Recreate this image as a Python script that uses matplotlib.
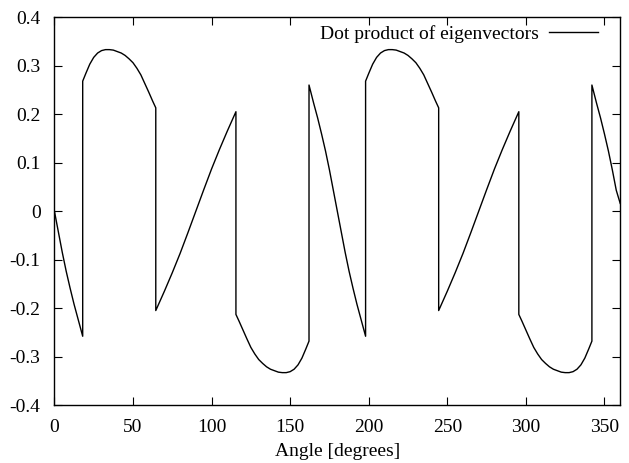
import matplotlib
matplotlib.use("Agg")
import matplotlib.pyplot as plt

# values (repeated angles = vertical jumps)
angle = [0, 2.5, 5, 7.5, 10, 12.5, 15, 18,
         18, 20, 22.5, 25, 27.5, 30, 32.5, 35, 37.5, 40, 42.5, 45, 47.5, 50,
         52.5, 55, 57.5, 60, 62.5, 64.5,
         64.5, 70, 75, 80, 85, 90, 95, 100, 105, 110, 115.5,
         115.5, 117.5, 120, 122.5, 125, 127.5, 130, 132.5, 135, 137.5, 140,
         142.5, 145, 147.5, 150, 152.5, 155, 157.5, 160, 162,
         162, 165, 167.5, 170, 172.5, 175, 177.5, 180, 182.5, 185, 187.5,
         190, 192.5, 195, 198,
         198, 200, 202.5, 205, 207.5, 210, 212.5, 215, 217.5, 220, 222.5, 225,
         227.5, 230, 232.5, 235, 237.5, 240, 242.5, 244.5,
         244.5, 250, 255, 260, 265, 270, 275, 280, 285, 290, 295.5,
         295.5, 297.5, 300, 302.5, 305, 307.5, 310, 312.5, 315, 317.5, 320,
         322.5, 325, 327.5, 330, 332.5, 335, 337.5, 340, 342,
         342, 345, 347.5, 350, 352.5, 355, 357.5, 360]
dot = [0, -0.043, -0.085, -0.124, -0.159, -0.192, -0.222, -0.258,
       0.268, 0.284, 0.303, 0.317, 0.326, 0.331, 0.333, 0.333, 0.332, 0.329, 0.326, 0.321, 0.314, 0.306,
       0.2945, 0.281, 0.2635, 0.2455, 0.227, 0.213,
       -0.205, -0.165, -0.127, -0.087, -0.044, 0.0, 0.044, 0.087, 0.127, 0.165, 0.205,
       -0.213, -0.227, -0.2455, -0.2635, -0.281, -0.2945, -0.306, -0.314, -0.321, -0.326, -0.329,
       -0.332, -0.333, -0.333, -0.331, -0.326, -0.317, -0.303, -0.284, -0.268,
       0.260, 0.222, 0.192, 0.159, 0.124, 0.085, 0.043, 0.0, -0.043, -0.085, -0.124,
       -0.159, -0.192, -0.222, -0.258,
       0.268, 0.284, 0.303, 0.317, 0.326, 0.331, 0.333, 0.333, 0.332, 0.329, 0.326, 0.321,
       0.314, 0.306, 0.2945, 0.281, 0.2635, 0.2455, 0.227, 0.213,
       -0.205, -0.165, -0.127, -0.087, -0.044, 0.0, 0.044, 0.087, 0.127, 0.165, 0.205,
       -0.213, -0.227, -0.2455, -0.2635, -0.281, -0.2945, -0.306, -0.314, -0.321, -0.326, -0.329,
       -0.332, -0.333, -0.333, -0.331, -0.326, -0.317, -0.303, -0.284, -0.268,
       0.260, 0.222, 0.192, 0.159, 0.124, 0.085, 0.043, 0.016]

x_ticks = [0, 50, 100, 150, 200, 250, 300, 350]
y_ticks = [-0.4, -0.3, -0.2, -0.1, 0, 0.1, 0.2, 0.3, 0.4]
y_labels = ['-0.4', '-0.3', '-0.2', '-0.1', '0', '0.1', '0.2', '0.3', '0.4']

plt.rcParams['font.family'] = ['Liberation Serif', 'DejaVu Serif']
plt.rcParams['font.size'] = 14

fig = plt.figure(figsize=(6.29, 4.63), dpi=100)
ax = fig.add_axes([0.0865, 0.125, 0.8995, 0.838])

ax.plot(angle, dot, color='black', lw=1.0, label='Dot product of eigenvectors')

ax.set_xlim(0, 360)
ax.set_ylim(-0.4, 0.4)
ax.set_xticks(x_ticks)
ax.set_yticks(y_ticks)
ax.set_yticklabels(y_labels)
ax.tick_params(direction='in', top=True, right=True, length=6, width=0.8)
ax.tick_params(axis='x', pad=10)
ax.tick_params(axis='y', pad=10)
for s in ax.spines.values():
    s.set_linewidth(1.0)

ax.set_xlabel('Angle [degrees]', labelpad=5)
ax.legend(loc='upper right', bbox_to_anchor=(0.974, 1.0), borderaxespad=0,
          frameon=False, markerfirst=False, handlelength=2.5, handletextpad=0.5)

fig.savefig('out.png', dpi=100)
